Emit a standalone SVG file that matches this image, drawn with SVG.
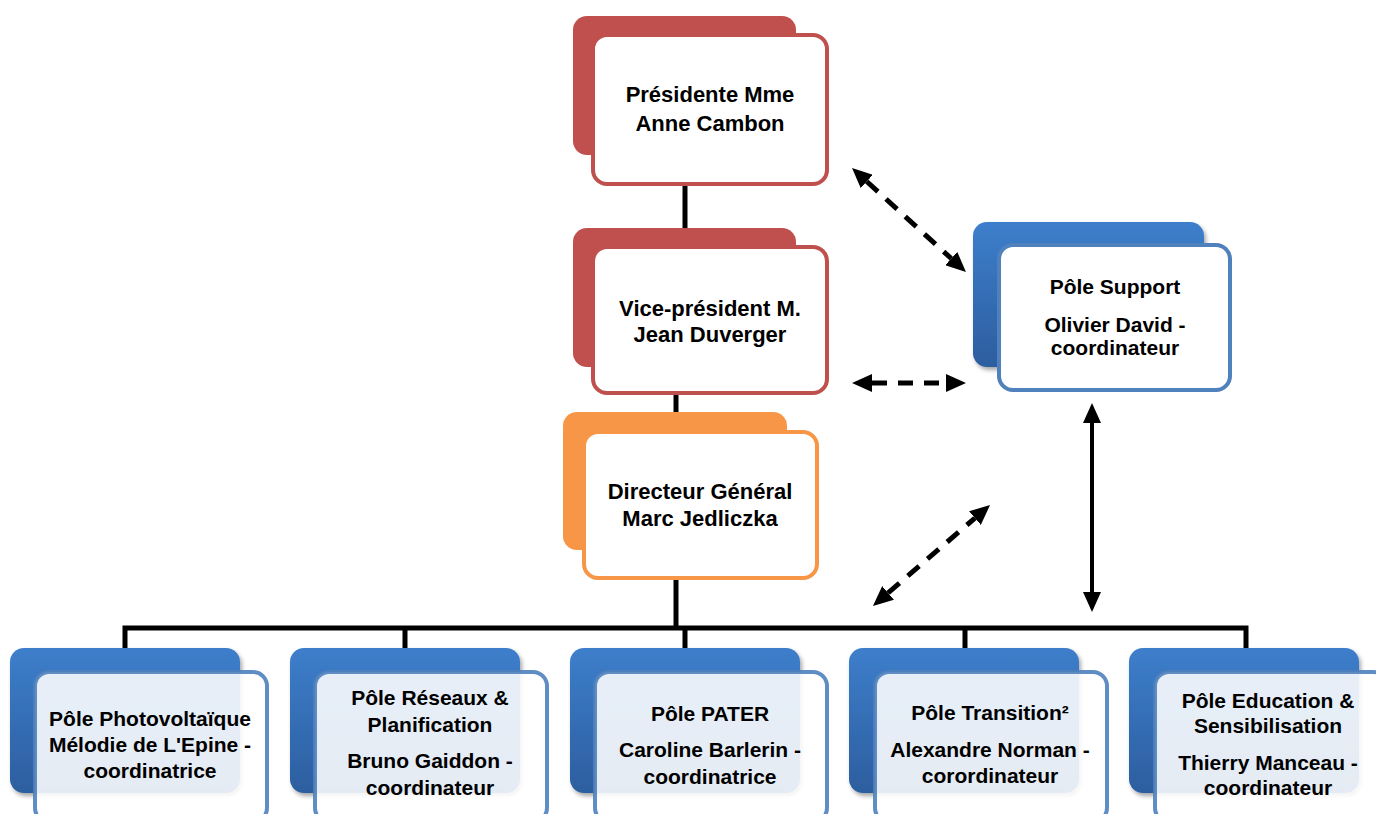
<svg xmlns="http://www.w3.org/2000/svg" width="1376" height="814" viewBox="0 0 1376 814">
<style>
text{font-family:"Liberation Sans",Arial,sans-serif;font-weight:bold;fill:#000;text-anchor:middle}
.t22{font-size:22px}
.t20{font-size:21px}
.red{fill:#C0504D}
.org{fill:#F79646}
.blue{fill:url(#bg)}
.fr{fill:#fff;stroke:#C0504D;stroke-width:4}
.fo{fill:#fff;stroke:#F79646;stroke-width:4}
.fb{fill:#fff;stroke:#4F81BD;stroke-width:4}
.fbt{fill:#fff;fill-opacity:0.88;stroke:#4F81BD;stroke-opacity:0.9;stroke-width:4}
.tree{fill:none;stroke:#000;stroke-width:5}
.dash{fill:none;stroke:#000;stroke-width:5;stroke-dasharray:15 11}
.solid{fill:none;stroke:#000;stroke-width:4}
</style>
<defs>
<linearGradient id="bg" x1="0" y1="0" x2="0" y2="1">
<stop offset="0" stop-color="#3D7ECB"/>
<stop offset="1" stop-color="#2C5E9F"/>
</linearGradient>
<filter id="sh" x="-10%" y="-10%" width="130%" height="130%">
<feDropShadow dx="2" dy="3" stdDeviation="2" flood-color="#000" flood-opacity="0.35"/>
</filter>
<marker id="ah" viewBox="0 0 20 18" markerUnits="userSpaceOnUse" markerWidth="20" markerHeight="18" refX="0" refY="9" orient="auto-start-reverse">
<path d="M0,0 L20,9 L0,18 z" fill="#000"/>
</marker>
</defs>

<g id="connectors">
<path class="tree" d="M685,184 V247"/>
<path class="tree" d="M676,393 V432"/>
<path class="tree" d="M676,578 V628"/>
<path class="tree" d="M125,650 V628 H1246 V650"/>
<path class="tree" d="M405,628 V650"/>
<path class="tree" d="M685,628 V650"/>
<path class="tree" d="M965,628 V650"/>
<path class="dash" d="M866.8,181.5 L951.2,258.5" marker-start="url(#ah)" marker-end="url(#ah)"/>
<path class="dash" d="M872,383 L946,383" marker-start="url(#ah)" marker-end="url(#ah)"/>
<path class="dash" d="M888.1,592.9 L974.9,518.1" marker-start="url(#ah)" marker-end="url(#ah)"/>
<path class="solid" d="M1092,423 L1092,592" marker-start="url(#ah)" marker-end="url(#ah)"/>
</g>

<g id="presidente">
<rect class="red" x="573" y="16" width="223" height="139" rx="14"/>
<rect class="fr" x="593" y="35" width="234" height="149" rx="14"/>
<text class="t22" x="710" y="102">Présidente Mme</text>
<text class="t22" x="710" y="131">Anne Cambon</text>
</g>

<g id="vice-president">
<rect class="red" x="573" y="228" width="223" height="139" rx="14"/>
<rect class="fr" x="593" y="247" width="234" height="146" rx="14"/>
<text class="t22" x="710" y="316">Vice-président M.</text>
<text class="t22" x="710" y="342">Jean Duverger</text>
</g>

<g id="directeur">
<rect class="org" x="563" y="412" width="224" height="138" rx="14"/>
<rect class="fo" x="584" y="432" width="233" height="146" rx="14"/>
<text class="t22" x="700" y="499">Directeur Général</text>
<text class="t22" x="700" y="526">Marc Jedliczka</text>
</g>

<g id="pole-support">
<rect class="blue" x="973" y="222" width="231" height="145" rx="14" filter="url(#sh)"/>
<rect class="fb" x="999" y="245" width="231" height="145" rx="14"/>
<text class="t20" x="1115" y="294">Pôle Support</text>
<text class="t20" x="1115" y="332">Olivier David -</text>
<text class="t20" x="1115" y="355">coordinateur</text>
</g>

<g id="pole-photovoltaique">
<rect class="blue" x="10" y="648" width="230" height="145" rx="14" filter="url(#sh)"/>
<rect class="fbt" x="35" y="672" width="232" height="150" rx="14"/>
<text class="t20" x="150" y="726">Pôle Photovoltaïque</text>
<text class="t20" x="150" y="752">Mélodie de L'Epine -</text>
<text class="t20" x="150" y="778">coordinatrice</text>
</g>

<g id="pole-reseaux">
<rect class="blue" x="290" y="648" width="230" height="145" rx="14" filter="url(#sh)"/>
<rect class="fbt" x="315" y="672" width="232" height="150" rx="14"/>
<text class="t20" x="430" y="705">Pôle Réseaux &amp;</text>
<text class="t20" x="430" y="732">Planification</text>
<text class="t20" x="430" y="768">Bruno Gaiddon -</text>
<text class="t20" x="430" y="795">coordinateur</text>
</g>

<g id="pole-pater">
<rect class="blue" x="570" y="648" width="230" height="145" rx="14" filter="url(#sh)"/>
<rect class="fbt" x="595" y="672" width="232" height="150" rx="14"/>
<text class="t20" x="710" y="721">Pôle PATER</text>
<text class="t20" x="710" y="757">Caroline Barlerin -</text>
<text class="t20" x="710" y="784">coordinatrice</text>
</g>

<g id="pole-transition">
<rect class="blue" x="849" y="648" width="230" height="145" rx="14" filter="url(#sh)"/>
<rect class="fbt" x="875" y="672" width="232" height="150" rx="14"/>
<text class="t20" x="990" y="720">Pôle Transition²</text>
<text class="t20" x="990" y="757">Alexandre Norman -</text>
<text class="t20" x="990" y="783">corordinateur</text>
</g>

<g id="pole-education">
<rect class="blue" x="1129" y="648" width="230" height="145" rx="14" filter="url(#sh)"/>
<rect class="fbt" x="1155" y="672" width="232" height="150" rx="14"/>
<text class="t20" x="1268" y="708">Pôle Education &amp;</text>
<text class="t20" x="1268" y="733">Sensibilisation</text>
<text class="t20" x="1268" y="770">Thierry Manceau -</text>
<text class="t20" x="1268" y="795">coordinateur</text>
</g>
</svg>
